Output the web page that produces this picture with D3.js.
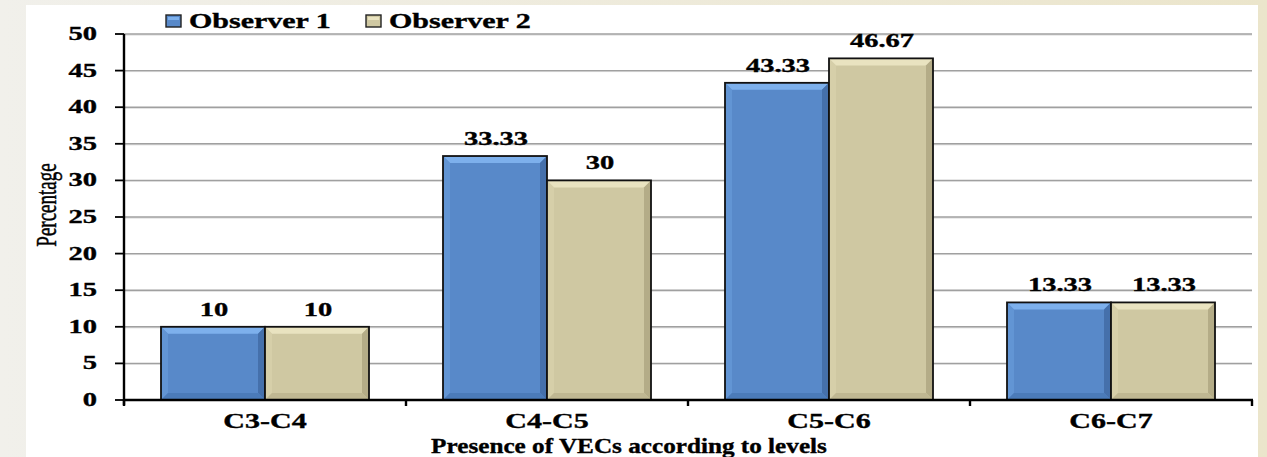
<!DOCTYPE html>
<html>
<head>
<meta charset="utf-8">
<script src="https://cdn.jsdelivr.net/npm/d3@7"></script>
<style>
  html, body { margin: 0; padding: 0; background: #eeece2; }
  svg { display: block; }
  text { font-family: "Liberation Serif", "Times New Roman", serif; fill: #000; }
  text.b { font-weight: bold; stroke: #000; stroke-width: 0.35; }
</style>
</head>
<body>
<svg id="chart" width="1267" height="457"></svg>
<script>
const categories = ["C3-C4", "C4-C5", "C5-C6", "C6-C7"];
const seriesNames = ["Observer 1", "Observer 2"];
const observer1 = [10, 33.33, 43.33, 13.33];
const observer2 = [10, 30, 46.67, 13.33];
const valueLabels1 = ["10", "33.33", "43.33", "13.33"];
const valueLabels2 = ["10", "30", "46.67", "13.33"];
const yTicks = [0, 5, 10, 15, 20, 25, 30, 35, 40, 45, 50];
const yTitle = "Percentage";
const xTitle = "Presence of VECs according to levels";

const svg = d3.select("#chart");
const SX = 1.5; // horizontal stretch of the original picture's text

// background
const defs = svg.append("defs");
const bgGrad = defs.append("linearGradient").attr("id", "bg").attr("x1", 0).attr("x2", 1);
bgGrad.append("stop").attr("offset", "0%").attr("stop-color", "#f1f0eb");
bgGrad.append("stop").attr("offset", "100%").attr("stop-color", "#ebe5cb");
svg.append("rect").attr("width", 1267).attr("height", 457).attr("fill", "url(#bg)");
svg.append("rect").attr("x", 26).attr("y", 5).attr("width", 1232).attr("height", 452).attr("fill", "#fff");

const x0 = 124, x1 = 1252, yTop = 34, yBot = 400;
const x = d3.scaleBand().domain(categories).range([x0, x1]).paddingInner(0).paddingOuter(0);
const y = d3.scaleLinear().domain([0, 50]).range([yBot, yTop]);
const barPad = 37;
const barW = (x.bandwidth() - 2 * barPad) / 2;

// gridlines
const grid = svg.append("g");
yTicks.filter(t => t > 0).forEach(t => {
  grid.append("line").attr("x1", x0).attr("x2", x1).attr("y1", y(t) + 1).attr("y2", y(t) + 1)
    .attr("stroke", "#d8d8d8").attr("stroke-width", 1);
  grid.append("line").attr("x1", x0).attr("x2", x1).attr("y1", y(t)).attr("y2", y(t))
    .attr("stroke", "#a0a0a0").attr("stroke-width", 1.4);
});

// bars with bevel
const palettes = [
  { main: "#5889c9", top: "#7db0ec", left: "#679ad9", right: "#4570ab", bottom: "#4b7bb9" },
  { main: "#cfc8a2", top: "#e9e3c0", left: "#d9d2ad", right: "#b4ac87", bottom: "#bfb792" }
];
const data = [];
categories.forEach((c, i) => {
  data.push({ c, s: 0, v: observer1[i], label: valueLabels1[i] });
  data.push({ c, s: 1, v: observer2[i], label: valueLabels2[i] });
});
const bars = svg.append("g");
const bev = 7;
data.forEach(d => {
  const bx = x(d.c) + barPad + d.s * barW;
  const by = y(d.v);
  const bh = yBot - by;
  const p = palettes[d.s];
  const g = bars.append("g");
  g.append("rect").attr("x", bx).attr("y", by).attr("width", barW).attr("height", bh).attr("fill", p.main);
  const X1 = bx, X2 = bx + barW, Y1 = by, Y2 = yBot;
  const poly = pts => g.append("polygon").attr("points", pts.map(q => q.join(",")).join(" "));
  poly([[X1, Y1], [X2, Y1], [X2 - bev, Y1 + bev], [X1 + bev, Y1 + bev]]).attr("fill", p.top);
  poly([[X1, Y1], [X1 + bev, Y1 + bev], [X1 + bev, Y2 - bev], [X1, Y2]]).attr("fill", p.left).attr("opacity", 0.7);
  poly([[X2, Y1], [X2, Y2], [X2 - bev, Y2 - bev], [X2 - bev, Y1 + bev]]).attr("fill", p.right);
  poly([[X1, Y2], [X1 + bev, Y2 - bev], [X2 - bev, Y2 - bev], [X2, Y2]]).attr("fill", p.bottom);
  g.append("rect").attr("x", bx).attr("y", by).attr("width", barW).attr("height", bh)
    .attr("fill", "none").attr("stroke", "#111").attr("stroke-width", 1.8);
  svg.append("text").attr("class", "b").attr("transform", `translate(${bx + barW / 2 + 1},${by - 11}) scale(${SX},1)`)
    .attr("text-anchor", "middle").attr("font-size", 19).text(d.label);
});

// axes
const axG = svg.append("g");
axG.append("line").attr("x1", x0).attr("x2", x0).attr("y1", yTop).attr("y2", yBot + 5)
  .attr("stroke", "#000").attr("stroke-width", 2.4);
axG.append("line").attr("x1", x0).attr("x2", x1 + 1).attr("y1", yBot).attr("y2", yBot)
  .attr("stroke", "#000").attr("stroke-width", 2.4);
yTicks.forEach(t => {
  axG.append("line").attr("x1", x0 - 9).attr("x2", x0).attr("y1", y(t)).attr("y2", y(t))
    .attr("stroke", "#000").attr("stroke-width", 1.8);
  axG.append("text").attr("class", "b").attr("transform", `translate(97,${y(t) + 6}) scale(${SX},1)`)
    .attr("text-anchor", "end").attr("font-size", 19).text(t);
});
const bounds = categories.map(c => x(c)).concat([x1]);
bounds.forEach(b => {
  axG.append("line").attr("x1", b).attr("x2", b).attr("y1", yBot).attr("y2", yBot + 6)
    .attr("stroke", "#000").attr("stroke-width", 2.4);
});
categories.forEach(c => {
  axG.append("text").attr("class", "b").attr("transform", `translate(${x(c) + x.bandwidth() / 2},428) scale(${SX},1)`)
    .attr("text-anchor", "middle").attr("font-size", 20).text(c);
});

// titles
svg.append("text").attr("class", "b").attr("transform", `translate(629,453) scale(1.2,1)`)
  .attr("text-anchor", "middle").attr("font-size", 21).text(xTitle);
svg.append("text").attr("transform", `translate(56,205) scale(1.6,1) rotate(-90)`)
  .attr("text-anchor", "middle").attr("font-size", 19).attr("stroke", "#000").attr("stroke-width", 0.3).text(yTitle);

// legend
const legX = [166, 366];
seriesNames.forEach((n, i) => {
  const lg = svg.append("g");
  lg.append("rect").attr("x", legX[i]).attr("y", 15).attr("width", 15).attr("height", 12)
    .attr("fill", palettes[i].main).attr("stroke", "#222").attr("stroke-width", 1.4);
  lg.append("rect").attr("x", legX[i] + 2).attr("y", 17).attr("width", 11).attr("height", 3)
    .attr("fill", palettes[i].top);
  lg.append("text").attr("class", "b").attr("transform", `translate(${legX[i] + 23},28) scale(${SX},1)`)
    .attr("font-size", 20).text(n);
});
</script>
</body>
</html>
